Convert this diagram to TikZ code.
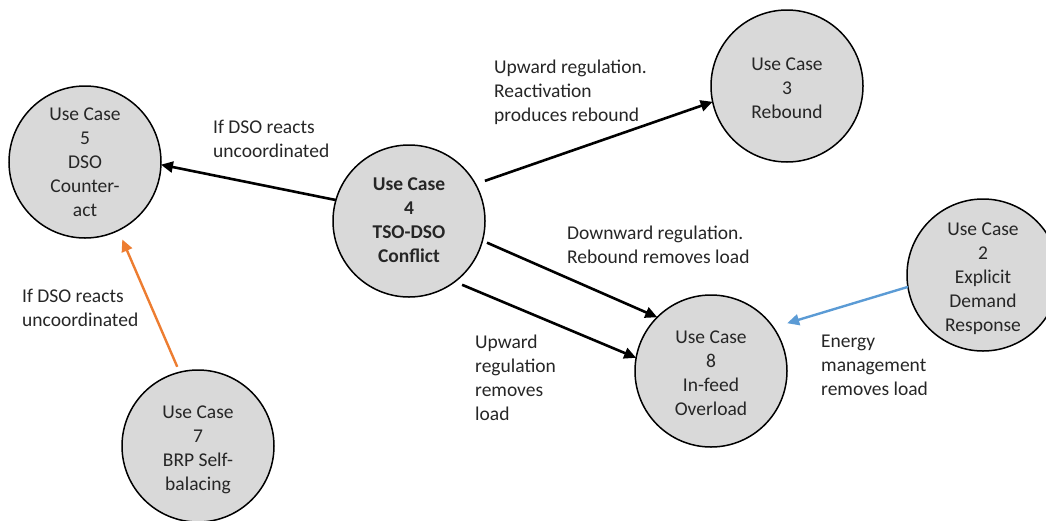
\documentclass[tikz,border=0pt]{standalone}
\usepackage{fontspec}
\setmainfont{Carlito}
\usetikzlibrary{arrows.meta}
\definecolor{ucfill}{HTML}{D9D9D9}
\definecolor{ucorange}{HTML}{ED7D31}
\definecolor{ucblue}{HTML}{5B9BD5}
\definecolor{txt}{HTML}{262626}
\newcommand{\uctext}[2][3.5pt]{\raisebox{-#1}[\height][\depth]{\begin{tabular}{@{}c@{}}#2\end{tabular}}}
\begin{document}
\begin{tikzpicture}[x=1pt,y=-1pt,
  uc/.style={circle, draw=black, line width=1.5pt, fill=ucfill, minimum size=152pt,
    inner sep=0pt, outer sep=0pt, text=txt,
    font=\fontsize{19.5}{24}\selectfont},
  lbl/.style={anchor=north west, inner sep=0pt, align=left, text=txt,
    font=\fontsize{19.5}{24}\selectfont, execute at begin node=\strut},
  conn/.style={line width=2.6pt, -{Triangle[length=12pt,width=11pt]}},
]
\useasboundingbox (0,0) rectangle (1046,520);

% use case circles
\node[uc] (uc5) at (85,162) {\uctext[2pt]{Use Case\\5\\DSO\\Counter-\\act}};
\node[uc, font=\fontsize{19.5}{24}\selectfont\bfseries] (uc4) at (409,221) {\uctext[1pt]{Use Case\\4\\TSO-DSO\\Conflict}};
\node[uc] (uc3) at (787,86) {\uctext{Use Case\\3\\Rebound}};
\node[uc] (uc8) at (711,371) {\uctext{Use Case\\8\\In-feed\\Overload}};
\node[uc] (uc2) at (983,275) {\uctext{Use Case\\2\\Explicit\\Demand\\Response}};
\node[uc] (uc7) at (198,446) {\uctext{Use Case\\7\\BRP Self-\\balacing}};

% labels
\node[lbl] (l45) at (213,120.2) {If DSO reacts\\uncoordinated};
\node[lbl] (l43) at (494,60.2) {Upward regulation.\\Reactivation\\produces rebound};
\node[lbl] (l48a) at (567,226.2) {Downward regulation.\\Rebound removes load};
\node[lbl] (l48b) at (475,335.2) {Upward\\regulation\\removes\\load};
\node[lbl] (l75) at (22,289.2) {If DSO reacts\\uncoordinated};
\node[lbl] (l28) at (821,335.2) {Energy\\management\\removes load};

% connectors
\draw[conn] (uc4.164) -- (uc5.-2);
\draw[conn, shorten <=10pt] (uc4.29) -- (uc3.192);
\draw[conn, shorten <=5pt] (uc4.-15) -- (uc8.135);
\draw[conn, shorten <=8pt] (uc4.-53) -- (uc8.170);
\draw[conn, draw=ucorange, fill=ucorange, line width=2.4pt, shorten <=6pt, shorten >=10pt] (uc7.104) -- (uc5.-64);
\draw[conn, draw=ucblue, fill=ucblue, line width=2.4pt, shorten >=14.5pt] (uc2.189) -- (uc8.35);
\end{tikzpicture}
\end{document}
